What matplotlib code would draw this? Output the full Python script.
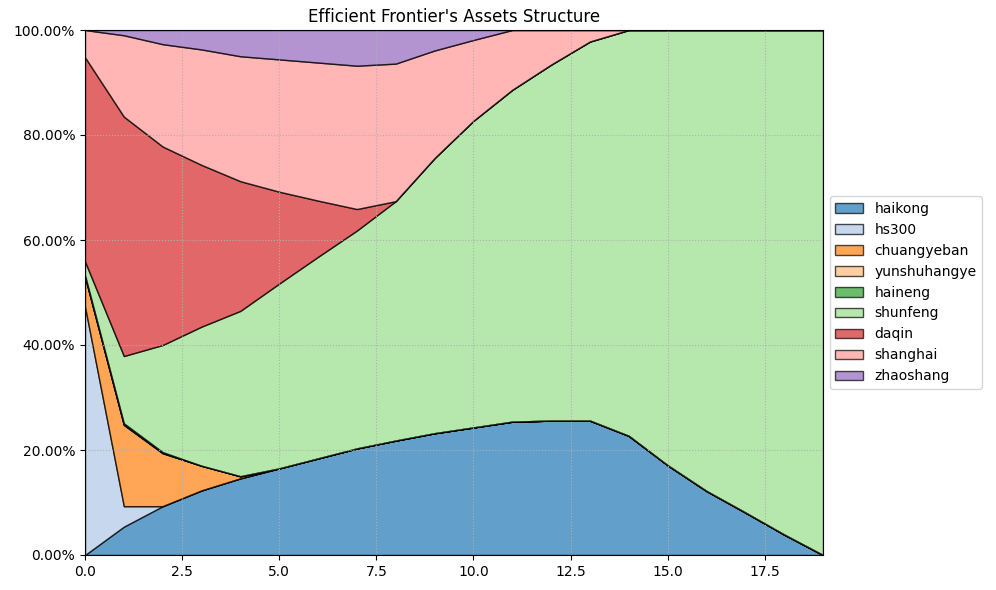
import matplotlib
matplotlib.use('Agg')
import matplotlib.pyplot as plt
from matplotlib.ticker import PercentFormatter
import numpy as np

# portfolio index along the efficient frontier
points = np.arange(20)

assets = ['haikong', 'hs300', 'chuangyeban', 'yunshuhangye', 'haineng',
          'shunfeng', 'daqin', 'shanghai', 'zhaoshang']

# weights in percent
haikong = [0, 5.4, 9.3, 12.3, 14.6, 16.5, 18.4, 20.3, 21.8, 23.2,
           24.3, 25.4, 25.6, 25.6, 22.7, 17.1, 12.2, 8.1, 3.9, 0]
hs300 = [47.3, 3.9, 0, 0, 0, 0, 0, 0, 0, 0,
         0, 0, 0, 0, 0, 0, 0, 0, 0, 0]
chuangyeban = [5.7, 15.5, 10.1, 4.7, 0.4, 0, 0, 0, 0, 0,
               0, 0, 0, 0, 0, 0, 0, 0, 0, 0]
yunshuhangye = [0] * 20
haineng = [0.3, 0.3, 0.2, 0, 0, 0, 0, 0, 0, 0,
           0, 0, 0, 0, 0, 0, 0, 0, 0, 0]
shunfeng = [2.6, 12.8, 20.4, 26.5, 31.5, 35.2, 38.4, 41.5, 45.6, 52.4,
            58.4, 63.2, 67.8, 72.2, 77.3, 82.9, 87.8, 91.9, 96.1, 100]
daqin = [38.9, 45.6, 37.8, 30.8, 24.7, 17.5, 10.7, 4.1, 0, 0,
         0, 0, 0, 0, 0, 0, 0, 0, 0, 0]
shanghai = [5.2, 15.5, 19.5, 22.0, 23.8, 25.2, 26.3, 27.3, 26.2, 20.5,
            15.4, 11.4, 6.6, 2.2, 0, 0, 0, 0, 0, 0]
zhaoshang = [0, 1.0, 2.7, 3.7, 5.0, 5.6, 6.2, 6.8, 6.4, 3.9,
             1.9, 0, 0, 0, 0, 0, 0, 0, 0, 0]

weights = np.array([haikong, hs300, chuangyeban, yunshuhangye, haineng,
                    shunfeng, daqin, shanghai, zhaoshang]) / 100.0

colors = [plt.cm.tab20(i) for i in range(len(assets))]

fig, ax = plt.subplots(figsize=(9.96, 5.9), dpi=100)
fig.subplots_adjust(left=85 / 996, right=823 / 996,
                    top=1 - 30 / 590, bottom=1 - 555 / 590)
ax.stackplot(points, weights, labels=assets, colors=colors,
             alpha=0.7, edgecolor='black', linewidth=1)

ax.set_xlim(0, 19)
ax.set_ylim(0, 1)
ax.yaxis.set_major_formatter(PercentFormatter(xmax=1, decimals=2))
# grid above the fills but below the spines
ax.set_axisbelow('line')
ax.grid(True, linestyle=':', color='#b0b0b0')
ax.set_title("Efficient Frontier's Assets Structure")
ax.legend(loc='center left', bbox_to_anchor=(1, 0.5))

fig.savefig('out.png', dpi=100)
